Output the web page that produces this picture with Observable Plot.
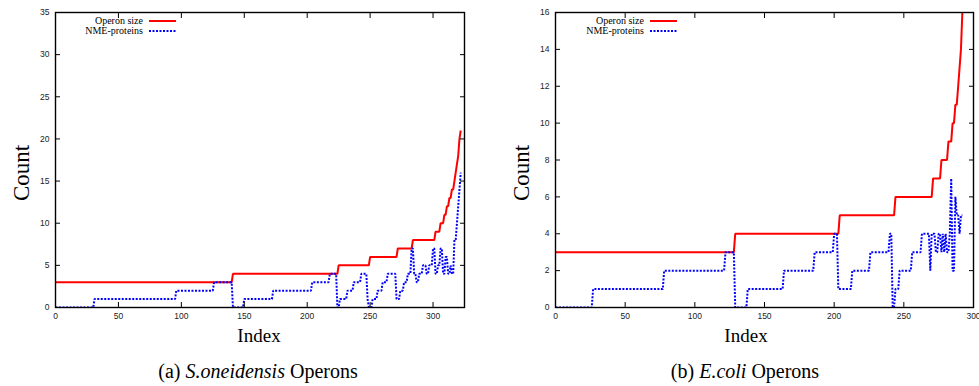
<!DOCTYPE html>
<html><head><meta charset="utf-8">
<script src="https://cdn.jsdelivr.net/npm/d3@7"></script>
<script src="https://cdn.jsdelivr.net/npm/@observablehq/plot@0.6"></script>
<style>
body{margin:0;background:#fff;}
#wrap{position:relative;width:979px;height:386px;overflow:hidden;background:#fff;color:#000;}
.pane{position:absolute;top:0;}
.lab,.ylab,.leg{font-family:"Liberation Serif","DejaVu Serif",serif;}
.lab{position:absolute;white-space:nowrap;transform:translate(-50%,-50%);}
.ylab{position:absolute;white-space:nowrap;transform:translate(-50%,-50%) rotate(-90deg);font-size:23px;}
.xlab{font-size:19px;}
.cap{font-size:20px;}
.leg{position:absolute;white-space:nowrap;font-size:10px;line-height:10px;transform:translate(-100%,-50%);}
</style>
</head><body>
<div id="wrap"></div>
<script>
// ---- data ----
const xTicks = [0, 50, 100, 150, 200, 250, 300];
const soYTicks = [0, 5, 10, 15, 20, 25, 30, 35];
const ecYTicks = [0, 2, 4, 6, 8, 10, 12, 14, 16];

// S.oneidensis: run starts (index) and counts
const soOperonStart = [0, 141, 225, 250, 272, 284, 302, 306, 309, 311, 313, 315, 317, 318, 319, 320, 321, 322];
const soOperonVal   = [3, 4,   5,   6,   7,   8,   9,   10,  11,  12,  13,  14,  15,  16,  17,  18,  20,  21];
const soNmeStart = [0, 31, 96, 126, 141, 150, 173, 204, 218, 224, 226, 232, 237, 243, 248, 249, 252, 256, 260, 264, 271, 274, 277, 280, 283, 285, 287, 289, 292, 295, 297, 300, 302, 304, 306, 308, 310, 312, 314, 315, 317, 319, 320, 321, 322];
const soNmeVal   = [0, 1,  2,  3,   0,   1,   2,   3,   4,   0,   1,   2,   3,   4,   1,   0,   1,   2,   3,   4,   1,   2,   3,   4,   7,   4,   3,   4,   5,   4,   5,   7,   4,   5,   7,   4,   6,   4,   5,   4,   8,   10,  12,  14,  16];
const soEnd = 322;

// E.coli
const ecOperonStart = [0, 129, 204, 244, 271, 277, 282, 285, 287, 289, 290, 291, 292];
const ecOperonVal   = [3, 4,   5,   6,   7,   8,   9,   10,  11,  12,  13,  14,  16];
const ecNmeStart = [0, 27, 78, 122, 129, 138, 164, 186, 200, 203, 213, 226, 240, 242, 244, 247, 256, 263, 269, 270, 273, 275, 277, 278, 279, 280, 281, 283, 284, 285, 287, 288, 290, 291];
const ecNmeVal   = [0, 1,  2,  3,   0,   1,   2,   3,   4,   1,   2,   3,   4,   0,   1,   2,   3,   4,   2,   4,   3,   4,   3,   4,   3,   4,   3,   4,   7,   2,   6,   5,   4,   5];
const ecEnd = 292;

// run-length decode to one point per index
function expand(starts, vals, end) {
  const out = [];
  for (let k = 0; k < starts.length; k++) {
    const stop = k + 1 < starts.length ? starts[k + 1] : end + 1;
    for (let i = starts[k]; i < stop; i++) out.push({x: i, y: vals[k]});
  }
  return out;
}

function chart(o) {
  return Plot.plot({
    width: o.width, height: o.height,
    marginLeft: o.ml, marginRight: o.mr, marginTop: o.mt, marginBottom: o.mb,
    x: {domain: o.xDomain},
    y: {domain: o.yDomain},
    style: {fontFamily: "'Liberation Sans', Arial, sans-serif", fontSize: "8.5px", color: "#222", background: "white", overflow: "visible"},
    marks: [
      Plot.line(o.operon, {x: "x", y: "y", stroke: "#ff0000", strokeWidth: 2, strokeLinecap: "butt", strokeLinejoin: "miter", clip: true}),
      Plot.line(o.nme, {x: "x", y: "y", stroke: "#0000ff", strokeWidth: 2, strokeDasharray: "2,1.5", strokeLinecap: "butt", strokeLinejoin: "miter", clip: true}),
      Plot.axisX(xTicks, {anchor: "bottom", tickSize: -5, tickPadding: 10, label: null, stroke: "black"}),
      Plot.axisX(xTicks, {anchor: "top", tickSize: -5, tickFormat: () => "", label: null, stroke: "black"}),
      Plot.axisY(o.yTicks, {anchor: "left", tickSize: -5, tickPadding: 11, label: null, stroke: "black"}),
      Plot.axisY(o.yTicks, {anchor: "right", tickSize: -5, tickFormat: () => "", label: null, stroke: "black"}),
      Plot.frame({stroke: "black", strokeWidth: 1.4})
    ]
  });
}

const wrap = document.getElementById("wrap");
function addPane(left, svg) {
  const d = document.createElement("div");
  d.className = "pane"; d.style.left = left + "px";
  d.appendChild(svg); wrap.appendChild(d);
}
addPane(0, chart({width: 490, height: 320, ml: 55, mr: 26, mt: 12, mb: 13,
  xDomain: [0, 325], yDomain: [0, 35], yTicks: soYTicks,
  operon: expand(soOperonStart, soOperonVal, soEnd), nme: expand(soNmeStart, soNmeVal, soEnd)}));
addPane(500, chart({width: 479, height: 320, ml: 55, mr: 6, mt: 12, mb: 13,
  xDomain: [0, 300], yDomain: [0, 16], yTicks: ecYTicks,
  operon: expand(ecOperonStart, ecOperonVal, ecEnd), nme: expand(ecNmeStart, ecNmeVal, ecEnd)}));

function html(tag, cls, x, y, inner) {
  const e = document.createElement(tag);
  e.className = cls; e.style.left = x + "px"; e.style.top = y + "px";
  e.innerHTML = inner; wrap.appendChild(e); return e;
}
// axis titles and captions
html("div", "ylab", 22, 173, "Count");
html("div", "ylab", 522, 173, "Count");
html("div", "lab xlab", 259, 336, "Index");
html("div", "lab xlab", 746, 336, "Index");
html("div", "lab cap", 258, 371, "(a) <i>S.oneidensis</i> Operons");
html("div", "lab cap", 745, 371, "(b) <i>E.coli</i> Operons");

// legends
function legend(xText, xLine) {
  html("div", "leg", xText, 21, "Operon size");
  html("div", "leg", xText, 31, "NME-proteins");
  const ns = "http://www.w3.org/2000/svg";
  const s = document.createElementNS(ns, "svg");
  s.setAttribute("width", 30); s.setAttribute("height", 24);
  s.style.position = "absolute"; s.style.left = xLine + "px"; s.style.top = "11px";
  s.innerHTML = '<line x1="0" x2="27" y1="10" y2="10" stroke="#ff0000" stroke-width="2"/>' +
                '<line x1="0" x2="27" y1="20" y2="20" stroke="#0000ff" stroke-width="2" stroke-dasharray="2,1.5"/>';
  wrap.appendChild(s);
}
legend(143, 149);
legend(644, 650);
</script>
</body></html>
